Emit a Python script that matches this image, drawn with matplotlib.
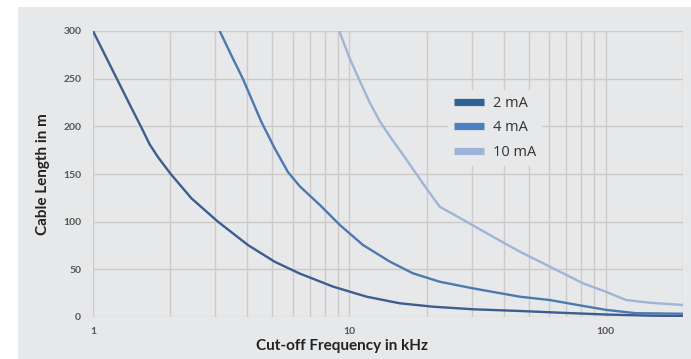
import matplotlib
matplotlib.use("Agg")
import matplotlib.pyplot as plt
from matplotlib.patches import Rectangle
from matplotlib.ticker import FixedLocator, FixedFormatter, NullFormatter

# Cable length limits versus cut-off frequency for three loop currents
freq_2ma = [1.0, 1.127, 1.233, 1.39, 1.543, 1.664, 1.8, 2.01, 2.42, 3.07, 4.02, 5.11, 6.41,
            8.65, 11.67, 15.7, 21.2, 30.4, 46.2, 65.0, 100.0, 150.0, 200.0]
len_2ma = [300, 272, 251, 223, 199, 181, 167, 150, 124.5, 100, 75.5, 58, 45.5,
           31.8, 21.3, 14.4, 10.8, 8.1, 6.3, 4.6, 2.6, 1.4, 1.0]

freq_4ma = [3.12, 3.5, 3.84, 4.53, 5.11, 5.76, 6.41, 7.67, 9.18, 11.3, 14.4, 17.7,
            22.5, 30.4, 46.2, 60.5, 80.0, 100.0, 131.0, 200.0]
len_4ma = [300, 272, 250, 205, 177, 152, 137, 117.5, 96.5, 75.5, 58, 45.8,
           37, 30, 21.3, 17.8, 12, 7.5, 4.0, 3.4]

freq_10ma = [9.13, 10.0, 11.0, 12.0, 13.15, 14.6, 16.2, 19.95, 22.5, 28.6, 36.4, 46.2,
             60.5, 81.5, 100.0, 120.0, 148.0, 200.0]
len_10ma = [300, 272, 247, 225, 205, 187, 170, 135, 115.7, 100, 84, 68.5,
            52.8, 35.3, 26.5, 17.8, 15, 12.6]

series_labels = ["2 mA", "4 mA", "10 mA"]
line_colors = ["#3b5d8f", "#4d78b0", "#9fb4d6"]
legend_colors = ["#2e6196", "#4a80c2", "#9db3d8"]

x_ticks = [1, 10, 100]
x_tick_labels = ["1", "10", "100"]
y_ticks = [0, 50, 100, 150, 200, 250, 300]

bg = "#e7e8ea"
grid_color = "#d0cac7"

fig = plt.figure(figsize=(6.91, 3.59), dpi=100)
fig.patch.set_facecolor("white")
fig.patches.append(Rectangle((18 / 691, 0), 1 - 18 / 691, (359 - 7) / 359,
                             transform=fig.transFigure, facecolor=bg,
                             edgecolor="none", zorder=-10))

ax = fig.add_axes([93 / 691, 1 - 317 / 359, (683 - 93) / 691, (317 - 31) / 359])
ax.set_zorder(1)
ax.set_facecolor(bg)
ax.set_xscale("log")
ax.set_xlim(1, 200)
ax.set_ylim(0, 300)

for s in ax.spines.values():
    s.set_visible(False)

ax.xaxis.set_major_locator(FixedLocator(x_ticks))
ax.xaxis.set_major_formatter(FixedFormatter(x_tick_labels))
ax.xaxis.set_minor_formatter(NullFormatter())
ax.set_yticks(y_ticks)
ax.grid(True, which="both", axis="x", color=grid_color, linewidth=1.0)
ax.grid(True, which="major", axis="y", color=grid_color, linewidth=1.0)
ax.set_axisbelow(True)
ax.tick_params(axis="both", which="both", length=0)
ax.tick_params(axis="y", pad=8.5)
ax.tick_params(axis="x", pad=7)
for lab in ax.get_xticklabels() + ax.get_yticklabels():
    lab.set_fontsize(7.5)
    lab.set_fontweight("bold")
    lab.set_color("#555555")
    lab.set_family("Lato")

data = [(freq_2ma, len_2ma), (freq_4ma, len_4ma), (freq_10ma, len_10ma)]
for (fx, ly), c in zip(data, line_colors):
    ax.plot(fx, ly, color=c, linewidth=1.7, solid_capstyle="round",
            solid_joinstyle="round", clip_on=True)

# Legend uses thick bar handles on a plain box that hides the grid behind it
fs = 10.5
handles = [plt.Line2D([], [], color=c, linewidth=5.2, solid_capstyle="butt") for c in legend_colors]
leg = ax.legend(handles, series_labels, loc="upper left",
                bbox_to_anchor=((441 - 93) / 590, 1 - (83 - 31) / 286),
                frameon=True, facecolor=bg, edgecolor="none", framealpha=1.0,
                handlelength=2.05, handletextpad=0.6, labelspacing=0.64,
                borderpad=0.4, borderaxespad=0.5,
                prop={"family": "Open Sans", "size": fs})
for t in leg.get_texts():
    t.set_color("#333333")

ax.set_xlabel("Cut-off Frequency in kHz", fontsize=11, fontweight="bold",
              family="Lato", color="#222222")
ax.xaxis.set_label_coords((342 - 93) / 590, -(339 - 317) / 286)
ax.set_ylabel("Cable Length in m", fontsize=11, fontweight="bold",
              family="Lato", color="#222222")
ax.yaxis.set_label_coords(-(93 - 50) / 590, 0.5)

fig.savefig("out.png", dpi=100, facecolor=fig.get_facecolor())
